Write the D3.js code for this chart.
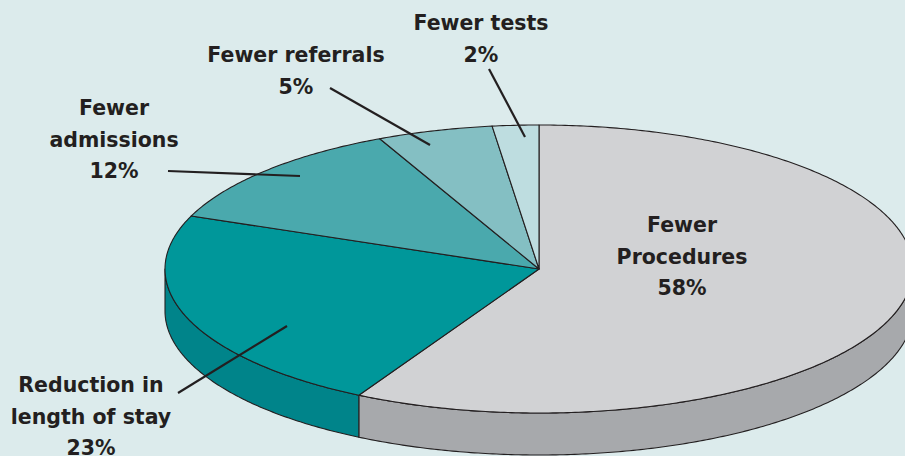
<!DOCTYPE html>
<html><head><meta charset="utf-8">
<script src="https://cdn.jsdelivr.net/npm/d3@7"></script>
<style>
html,body{margin:0;padding:0;background:#dcebec;}
svg{display:block;}
text{font-family:"DejaVu Sans",sans-serif;font-weight:bold;fill:#231f20;}
</style></head>
<body>
<svg id="c" width="905" height="456"></svg>
<script>
// ---- data ----
const categories = ["Fewer Procedures", "Reduction in length of stay", "Fewer admissions", "Fewer referrals", "Fewer tests"];
const values = [58, 23, 12, 5, 2];
const labelLines = [
  ["Fewer", "Procedures", "58%"],
  ["Reduction in", "length of stay", "23%"],
  ["Fewer", "admissions", "12%"],
  ["Fewer referrals", "5%"],
  ["Fewer tests", "2%"]
];
// ---- styles / layout ----
const topColors  = ["#d1d2d4", "#00979a", "#4aa9ad", "#84bfc3", "#bedde0"];
const sideColors = ["#a7a9ac", "#00848a", "#3d9296", "#6fa9ad", "#a3c5c8"];
const labelLayout = [
  {x: 682, y: 232, leader: null},
  {x: 91,  y: 392, leader: [[178, 393], [287, 326]]},
  {x: 114, y: 115, leader: [[168, 171], [300, 176]]},
  {x: 296, y: 62,  leader: [[330, 88], [430, 145]]},
  {x: 481, y: 30,  leader: [[489, 69], [525, 137]]}
];
const cx = 539, cy = 269, rx = 374, ry = 144, depth = 42, lineH = 31.5;

const svg = d3.select("#c");
const pie = d3.pie().sort(null).value(d => d).startAngle(0).endAngle(2 * Math.PI);
const arcs = pie(values);

const px = a => cx + rx * Math.sin(a);
const py = (a, dy = 0) => cy - ry * Math.cos(a) + dy;

function samples(a0, a1) {
  const n = Math.max(2, Math.ceil(Math.abs(a1 - a0) / 0.01));
  return d3.range(n + 1).map(i => a0 + (a1 - a0) * i / n);
}

// side walls (visible between 90° and 270°)
const lo = Math.PI / 2, hi = 3 * Math.PI / 2;
arcs.forEach((d, i) => {
  const a0 = Math.max(d.startAngle, lo), a1 = Math.min(d.endAngle, hi);
  if (a1 <= a0) return;
  const p = d3.path();
  const top = samples(a0, a1), bot = samples(a1, a0);
  top.forEach((a, k) => k ? p.lineTo(px(a), py(a)) : p.moveTo(px(a), py(a)));
  bot.forEach(a => p.lineTo(px(a), py(a, depth)));
  p.closePath();
  svg.append("path").attr("d", p.toString())
    .attr("fill", sideColors[i]).attr("stroke", "#231f20").attr("stroke-width", 1.1)
    .attr("stroke-linejoin", "round");
});

// top faces
arcs.forEach((d, i) => {
  const p = d3.path();
  p.moveTo(cx, cy);
  samples(d.startAngle, d.endAngle).forEach(a => p.lineTo(px(a), py(a)));
  p.closePath();
  svg.append("path").attr("d", p.toString())
    .attr("fill", topColors[i]).attr("stroke", "#231f20").attr("stroke-width", 1.1)
    .attr("stroke-linejoin", "round");
});

// leaders
labelLayout.forEach(l => {
  if (!l.leader) return;
  svg.append("line")
    .attr("x1", l.leader[0][0]).attr("y1", l.leader[0][1])
    .attr("x2", l.leader[1][0]).attr("y2", l.leader[1][1])
    .attr("stroke", "#231f20").attr("stroke-width", 2.2);
});

// labels
labelLines.forEach((lines, i) => {
  const l = labelLayout[i];
  const t = svg.append("text").attr("text-anchor", "middle").attr("font-size", 20.5);
  lines.forEach((s, k) => t.append("tspan").attr("x", l.x).attr("y", l.y + k * lineH).text(s));
});
</script>
</body></html>
